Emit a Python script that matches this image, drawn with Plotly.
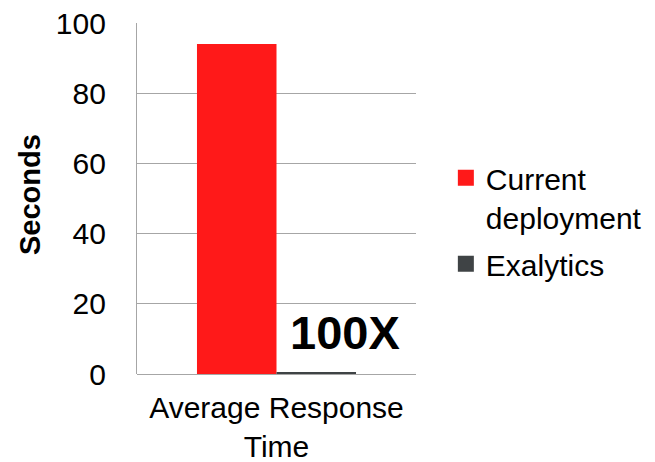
import plotly.graph_objects as go

categories = ["Average Response<br>Time"]
series_names = ["Current<br>deployment", "Exalytics"]
current_values = [94]
exalytics_values = [0.6]
y_ticks = [0, 20, 40, 60, 80, 100]
colors = ["#ff1919", "#3f4345"]

FONT = "Liberation Sans, Arial, sans-serif"

fig = go.Figure()
fig.add_trace(go.Bar(x=categories, y=current_values, name=series_names[0],
                     marker=dict(color=colors[0], line=dict(width=0)), showlegend=False))
fig.add_trace(go.Bar(x=categories, y=exalytics_values, name=series_names[1],
                     marker=dict(color=colors[1], line=dict(width=0)), showlegend=False))
# legend entries
for i, nm in enumerate(series_names):
    fig.add_trace(go.Scatter(x=[None], y=[None], mode="markers", name=nm,
                             legendgroup=f"g{i}",
                             marker=dict(symbol="square", size=16, color=colors[i]),
                             showlegend=True))

fig.update_layout(
    width=655, height=462,
    margin=dict(l=137, r=239, t=23, b=88, autoexpand=False),
    paper_bgcolor="white", plot_bgcolor="white",
    barmode="group", bargap=0.43, bargroupgap=0,
    font=dict(family=FONT, size=30, color="#000000"),
    legend=dict(x=1.107, y=0.633, xanchor="left", yanchor="top",
                valign="top", tracegroupgap=5,
                font=dict(family=FONT, size=30, color="#000000"),
                bgcolor="rgba(0,0,0,0)"),
    xaxis=dict(type="category", showgrid=False, showline=False, ticks="",
               automargin=False,
               tickfont=dict(family=FONT, size=30), ticklabelstandoff=13,
               fixedrange=True),
    yaxis=dict(range=[0, 100], tickvals=y_ticks, showgrid=True,
               automargin=False,
               gridcolor="#a6a6a6", gridwidth=1.3, showline=True,
               linecolor="#a6a6a6", linewidth=1.3, zeroline=True,
               zerolinecolor="#a6a6a6", zerolinewidth=1.3, ticks="",
               tickfont=dict(family=FONT, size=30), ticklabelstandoff=24,
               fixedrange=True),
    annotations=[
        dict(text="<b>Seconds</b>", textangle=-90, xref="paper", yref="paper",
             x=0, xshift=-107, y=0.51, xanchor="center", yanchor="middle",
             showarrow=False, font=dict(family=FONT, size=29, color="#000000")),
        dict(text="<b>100X</b>", xref="paper", yref="y", x=0.746, y=11.7,
             xanchor="center", yanchor="middle", showarrow=False,
             font=dict(family=FONT, size=47, color="#000000")),
    ],
)

fig.write_html("out.html",
               config={"displayModeBar": False, "staticPlot": False},
               post_script="document.body.style.margin='0';document.body.style.padding='0';")
